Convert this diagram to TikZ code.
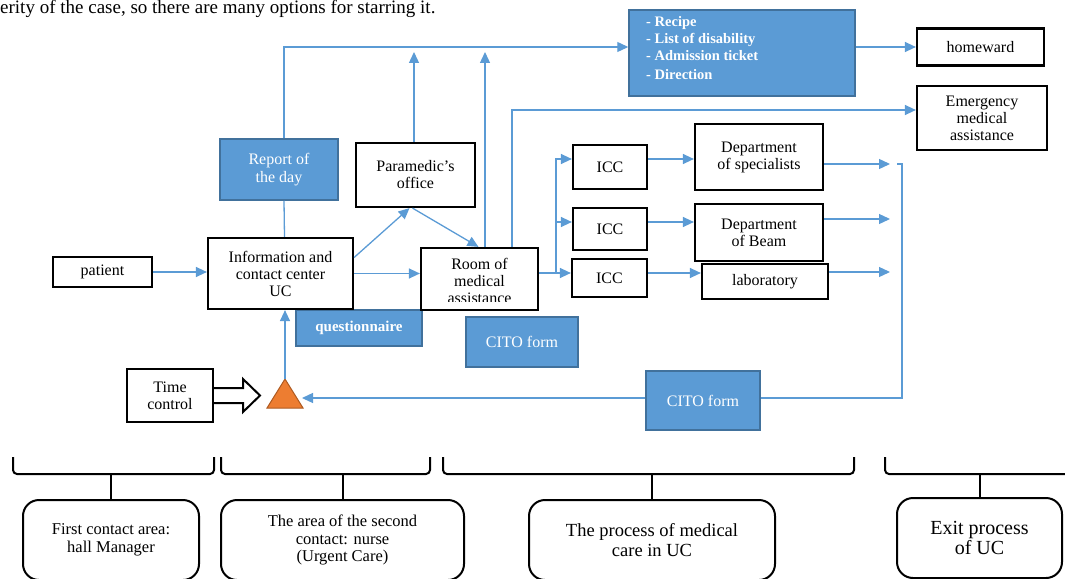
\documentclass[tikz,border=0pt]{standalone}
\usepackage{fontspec}
\setmainfont{Liberation Serif}
\usetikzlibrary{arrows.meta,calc}
\definecolor{lblue}{HTML}{5B9BD5}
\definecolor{dblue}{HTML}{41719C}
\definecolor{orng}{HTML}{ED7D31}
\definecolor{dorng}{HTML}{AE5A21}
\begin{document}
\begin{tikzpicture}[x=1pt,y=-1pt,
 box/.style={draw=black,line width=2.2pt,fill=white,inner sep=0pt,align=center,font=\fontsize{16}{17}\selectfont},
 bbox/.style={draw=dblue,line width=1.5pt,fill=lblue,text=white,inner sep=0pt,align=center,font=\fontsize{16}{18}\selectfont},
 conn/.style={draw=lblue,line width=1.3pt},
 arr/.style={conn,-{Triangle[length=11pt,width=10pt]}},
 bracketline/.style={line width=2pt,rounded corners=4pt},
 area/.style={draw,line width=2pt,rounded corners=16pt,inner sep=0pt,align=center,minimum height=80pt}]
\useasboundingbox (0,0) rectangle (1065,578);
\clip (0,0) rectangle (1065,578);

\node[anchor=base west,inner sep=0pt,font=\fontsize{19}{22}\selectfont] (cap) at (0,14) {erity of the case, so there are many options for starring it.};

% documents box
\node[bbox,minimum width=226pt,minimum height=86pt] (docs) at (742,53) {};
\node[anchor=west,inner sep=0pt,text=white,align=left,font=\bfseries\fontsize{14.5}{17}\selectfont] (docstext) at (646,48) {- Recipe\\- List of disability\\- Admission ticket\\[2pt]- Direction};

\node[box,minimum width=127pt,minimum height=37pt] (home) at (980.5,47) {homeward};
\node[box,minimum width=130pt,minimum height=64pt] (emerg) at (982,118) {Emergency\\medical\\assistance};

\node[bbox,minimum width=118pt,minimum height=61pt] (report) at (279,169.5) {Report of\\the day};
\node[box,minimum width=119pt,minimum height=64pt] (para) at (415.5,175) {Paramedic’s\\office};
\node[bbox,minimum width=126pt,minimum height=36pt,font=\bfseries\fontsize{15}{18}\selectfont] (quest) at (359,328) {questionnaire};
\node[box,minimum width=145pt,minimum height=71pt] (info) at (280.5,273.5) {Information and\\contact center\\UC};
\node[box,minimum width=99pt,minimum height=30pt] (patient) at (102.5,272) {patient};
\node[box,minimum width=117pt,minimum height=62pt] (room) at (479.5,279) {};
\begin{scope}
\clip (423,250) rectangle (536,301);
\node[inner sep=0pt,align=center,font=\fontsize{16}{17}\selectfont] (roomtext) at (479.5,281) {Room of\\medical\\assistance};
\end{scope}
\node[bbox,minimum width=112pt,minimum height=50pt] (cito1) at (522,342) {CITO form};

\node[box,minimum width=74pt,minimum height=44pt] (icc1) at (610,167) {ICC};
\node[box,minimum width=74pt,minimum height=42pt] (icc2) at (610,229) {ICC};
\node[box,minimum width=75pt,minimum height=38pt] (icc3) at (609.5,278) {ICC};
\node[box,minimum width=128pt,minimum height=66pt] (dspec) at (759,157) {Department\\of specialists};
\node[box,minimum width=128pt,minimum height=57pt] (dbeam) at (759,232.5) {Department\\of Beam};
\node[box,minimum width=126pt,minimum height=35pt] (lab) at (765,281.5) {laboratory};

\node[box,minimum width=86pt,minimum height=53pt] (time) at (170,395.5) {Time\\control};

% triangle
\coordinate (tritop) at (285,379);
\coordinate (trir) at (302,398);
\draw[draw=dorng,fill=orng,line width=1pt] (267,408) -- (tritop) -- (303,408) -- cycle;

% hollow arrow from time control
\draw[line width=2pt,fill=white,line join=miter] (time.east |- 0,388) -- (243,388) -- (243,379) -- (260,395.5) -- (243,412) -- (243,403) -- (time.east |- 0,403);

% free end coordinates
\coordinate (up1) at (414,52);
\coordinate (up2) at (485,52);
\coordinate (br) at (556,273);
\coordinate (r1) at ($(icc1.west)+(0,-8)$);
\coordinate (r2) at ($(icc2.west)+(0,-7)$);
\coordinate (r3) at (br -| icc3.west);
\coordinate (e1) at (890,164);
\coordinate (e2) at (890,219);
\coordinate (e3) at (890,272);
\coordinate (rt) at (897,164);
\coordinate (rc) at (902,164);
\coordinate (rb) at (902,398);

% connectors
\draw[arr] ([xshift=5pt]report.north) |- ($(docs.west)+(0,-6)$);
\draw[conn] ([xshift=4pt]info.north) -- ([xshift=5pt]report.south);
\draw[arr] (para.north -| up1) -- (up1);
\draw[arr] (room.north -| up2) -- (up2);
\draw[arr] ([xshift=32.5pt]room.north) |- ($(emerg.west)+(0,-8)$);
\draw[arr] (docs.east |- home.west) -- (home.west);
\draw[arr] (patient.east) -- (patient.east -| info.west);
\draw[arr] (info.east) -- (info.east -| room.west);
\draw[arr] ($(info.east)+(0,-16)$) -- ($(para.south)+(-6,0)$);
\draw[arr] ($(para.south)+(-3,0)$) -- ($(room.north)+(-1,0)$);
\draw[conn] (room.east |- br) -- (br);
\draw[arr] (br) -- (r3);
\draw[arr] (br) |- (r1);
\draw[arr] (br |- r2) -- (r2);
\draw[arr] (r1 -| icc1.east) -- (r1 -| dspec.west);
\draw[arr] (r2 -| icc2.east) -- (r2 -| dbeam.west);
\draw[arr] (r3 -| icc3.east) -- (r3 -| lab.west);
\draw[arr] (e1 -| dspec.east) -- (e1);
\draw[arr] (e2 -| dbeam.east) -- (e2);
\draw[arr] (e3 -| lab.east) -- (e3);
\draw[arr] (rt) -- (rc) -- (rb) -- (trir);
\draw[arr] (tritop) -- (tritop |- info.south);

\node[bbox,minimum width=114pt,minimum height=59pt] (cito2) at (703,400.5) {CITO form};

% bottom areas
\node[area,minimum width=176pt,font=\fontsize{16.5}{18}\selectfont] (area1) at (111,540) {First contact area:\\hall Manager};
\node[area,minimum width=243pt,font=\fontsize{16.5}{17.5}\selectfont] (area2) at (342.5,540) {The area of the second\\contact: nurse\\(Urgent Care)};
\node[area,minimum width=246pt,font=\fontsize{18.5}{20}\selectfont] (area3) at (652,540) {The process of medical\\care in UC};
\node[area,minimum width=165pt,font=\fontsize{20}{20}\selectfont] (area4) at (979.5,538) {Exit process\\of UC};

\draw[bracketline] (13,457) -- (13,474) -- (214,474) -- (214,457);
\draw[bracketline] (221,457) -- (221,474) -- (430,474) -- (430,457);
\draw[bracketline] (443,457) -- (443,474) -- (854,474) -- (854,457);
\draw[bracketline] (885,457) -- (885,474) -- (1075,474);
\draw[line width=2pt] (area1.north) -- (area1.north |- 0,474);
\draw[line width=2pt] (area2.north) -- (area2.north |- 0,474);
\draw[line width=2pt] (area3.north) -- (area3.north |- 0,474);
\draw[line width=2pt] (area4.north) -- (area4.north |- 0,474);
\end{tikzpicture}
\end{document}
